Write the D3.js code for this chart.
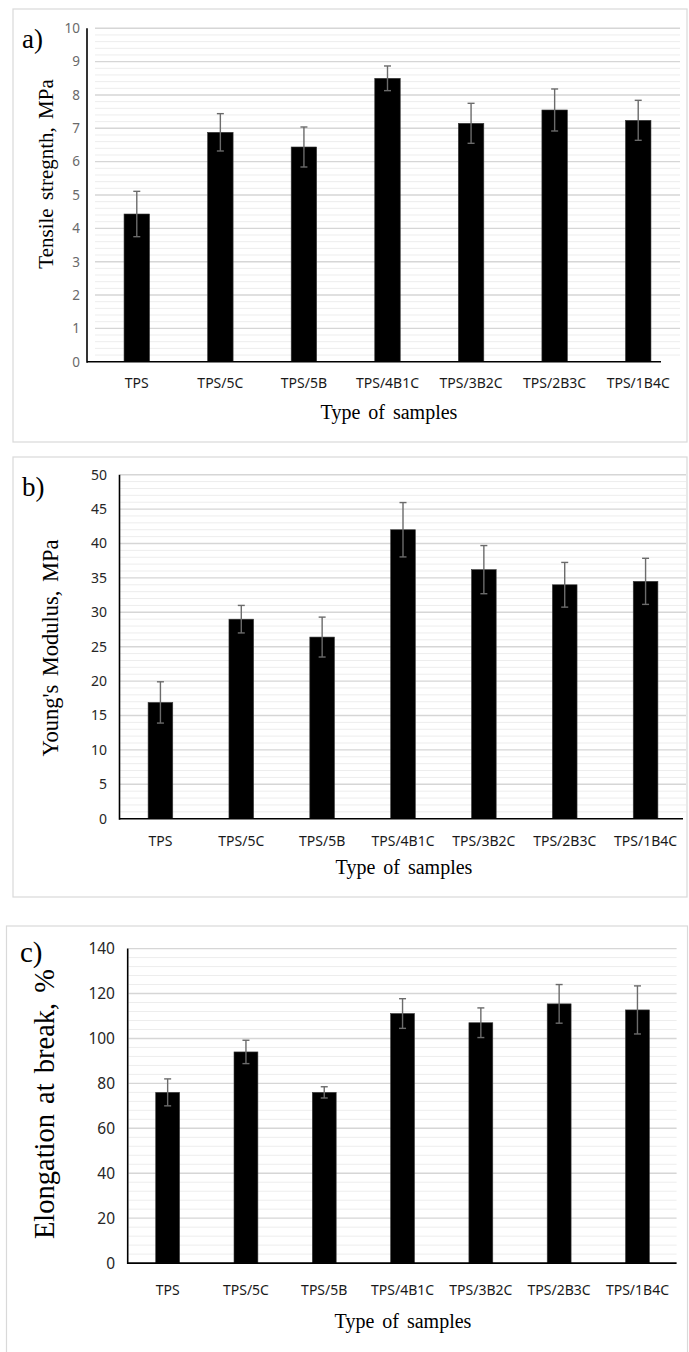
<!DOCTYPE html>
<html>
<head>
<meta charset="utf-8">
<script src="https://cdn.jsdelivr.net/npm/d3@7"></script>
<style>
  html, body { margin: 0; padding: 0; background: #ffffff; }
  svg { display: block; }
</style>
</head>
<body>
<svg id="chart" width="689" height="1352"></svg>
<script>
// Data
const samples = ['TPS', 'TPS/5C', 'TPS/5B', 'TPS/4B1C', 'TPS/3B2C', 'TPS/2B3C', 'TPS/1B4C'];

const tensileStrength = [4.43, 6.88, 6.44, 8.5, 7.15, 7.55, 7.24];
const tensileError = [0.68, 0.56, 0.6, 0.37, 0.6, 0.63, 0.6];

const youngsModulus = [16.9, 29.0, 26.4, 42.0, 36.2, 34.0, 34.5];
const youngsError = [3.0, 2.0, 2.9, 3.95, 3.5, 3.25, 3.35];

const elongation = [76.0, 94.0, 76.0, 111.1, 107.0, 115.4, 112.7];
const elongationError = [6.0, 5.2, 2.5, 6.6, 6.6, 8.6, 10.7];

const tensileTicks = [0, 1, 2, 3, 4, 5, 6, 7, 8, 9, 10];
const youngsTicks = [0, 5, 10, 15, 20, 25, 30, 35, 40, 45, 50];
const elongationTicks = [0, 20, 40, 60, 80, 100, 120, 140];

const xTitle = 'Type of samples';

// Layout of each panel (pixel geometry only)
const panels = [
  {
    letter: 'a)', title: 'Tensile stregnth, MPa', values: tensileStrength, errors: tensileError,
    ticks: tensileTicks, minorStep: 0.2,
    frame: { x: 13, y: 9, w: 674, h: 433 },
    plot: { x0: 95, x1: 680, yTop: 28.3, yBottom: 361.7 },
    axisX: 87, baseEnd: 661,
    tickFont: 13.5, tickColor: '#6a6a6a', tickX: 80,
    letterPos: [22, 48, 27], titlePos: [53, 174, 21],
    catY: 388, xTitlePos: [389, 419]
  },
  {
    letter: 'b)', title: "Young's Modulus, MPa", values: youngsModulus, errors: youngsError,
    ticks: youngsTicks, minorStep: 1,
    frame: { x: 13, y: 457, w: 674, h: 440 },
    plot: { x0: 120, x1: 686, yTop: 474.7, yBottom: 818.7 },
    axisX: 119.5, baseEnd: 683,
    tickFont: 14, tickColor: '#262626', tickX: 107,
    letterPos: [22, 496, 27], titlePos: [58, 648, 22.5],
    catY: 846, xTitlePos: [404, 874]
  },
  {
    letter: 'c)', title: 'Elongation at break, %', values: elongation, errors: elongationError,
    ticks: elongationTicks, minorStep: 4,
    frame: { x: 6.5, y: 926, w: 681, h: 460 },
    plot: { x0: 128.5, x1: 676.6, yTop: 948.6, yBottom: 1263.1 },
    axisX: 127.7, baseEnd: 676.6,
    tickFont: 15.5, tickColor: '#262626', tickX: 115,
    letterPos: [20, 962, 29], titlePos: [54, 1104, 28.5],
    catY: 1295, xTitlePos: [403, 1328]
  }
];

const svg = d3.select('#chart');
const serif = "'Liberation Serif', 'Times New Roman', serif";
const sans = "'Noto Sans', 'Open Sans', sans-serif";

panels.forEach((p) => {
  const g = svg.append('g');

  // panel frame
  g.append('rect')
    .attr('x', p.frame.x)
    .attr('y', p.frame.y)
    .attr('width', p.frame.w)
    .attr('height', p.frame.h)
    .attr('fill', '#ffffff')
    .attr('stroke', '#d9d9d9')
    .attr('stroke-width', 1.2);

  const yMax = p.ticks[p.ticks.length - 1];
  const y = d3.scaleLinear().domain([0, yMax]).range([p.plot.yBottom, p.plot.yTop]);
  const x = d3.scaleBand()
    .domain(samples)
    .range([p.plot.x0, p.plot.x1])
    .paddingInner(0.695)
    .paddingOuter(0.3475);

  // minor gridlines
  const minor = d3.range(0, yMax + 1e-9, p.minorStep).filter((v) => !p.ticks.some((t) => Math.abs(t - v) < 1e-9));
  g.append('g')
    .selectAll('line')
    .data(minor)
    .join('line')
    .attr('x1', p.plot.x0)
    .attr('x2', p.plot.x1)
    .attr('y1', (d) => y(d))
    .attr('y2', (d) => y(d))
    .attr('stroke', '#ededed')
    .attr('stroke-width', 1);

  // major gridlines
  g.append('g')
    .selectAll('line')
    .data(p.ticks.slice(1))
    .join('line')
    .attr('x1', p.plot.x0)
    .attr('x2', p.plot.x1)
    .attr('y1', (d) => y(d))
    .attr('y2', (d) => y(d))
    .attr('stroke', '#d6d6d6')
    .attr('stroke-width', 1.4);

  // y tick labels
  const yAxis = d3.axisLeft(y).tickValues(p.ticks).tickSize(0).tickPadding(0);
  const ya = g.append('g')
    .attr('transform', `translate(${p.tickX},0)`)
    .call(yAxis);
  ya.select('.domain').remove();
  ya.selectAll('text')
    .style('font-family', sans)
    .style('font-size', `${p.tickFont}px`)
    .style('fill', p.tickColor);

  // bars
  const data = samples.map((s, i) => ({ s, v: p.values[i], e: p.errors[i] }));
  g.append('g')
    .selectAll('rect')
    .data(data)
    .join('rect')
    .attr('x', (d) => x(d.s))
    .attr('y', (d) => y(d.v))
    .attr('width', x.bandwidth())
    .attr('height', (d) => y(0) - y(d.v))
    .attr('fill', '#000000')
    .attr('stroke', '#3a3a3a')
    .attr('stroke-width', 0.6);

  // error bars
  const eb = g.append('g')
    .attr('stroke', '#6b6b6b')
    .attr('stroke-width', 1.4)
    .selectAll('g')
    .data(data)
    .join('g')
    .attr('transform', (d) => `translate(${x(d.s) + x.bandwidth() / 2},0)`);
  eb.append('line')
    .attr('y1', (d) => y(d.v + d.e))
    .attr('y2', (d) => y(d.v - d.e));
  eb.append('line')
    .attr('x1', -3.5).attr('x2', 3.5)
    .attr('y1', (d) => y(d.v + d.e))
    .attr('y2', (d) => y(d.v + d.e));
  eb.append('line')
    .attr('x1', -3.5).attr('x2', 3.5)
    .attr('y1', (d) => y(d.v - d.e))
    .attr('y2', (d) => y(d.v - d.e));

  // axis lines
  g.append('line')
    .attr('x1', p.axisX).attr('x2', p.axisX)
    .attr('y1', p.plot.yTop).attr('y2', p.plot.yBottom + 1)
    .attr('stroke', '#000000')
    .attr('stroke-width', 1.6);
  g.append('line')
    .attr('x1', p.axisX).attr('x2', p.baseEnd)
    .attr('y1', y(0)).attr('y2', y(0))
    .attr('stroke', '#000000')
    .attr('stroke-width', 1.6);

  // category labels
  g.append('g')
    .selectAll('text')
    .data(samples)
    .join('text')
    .attr('x', (d) => x(d) + x.bandwidth() / 2)
    .attr('y', p.catY)
    .attr('text-anchor', 'middle')
    .style('font-family', sans)
    .style('font-size', '14px')
    .style('fill', '#1a1a1a')
    .text((d) => d);

  // x title
  g.append('text')
    .attr('x', p.xTitlePos[0])
    .attr('y', p.xTitlePos[1])
    .attr('text-anchor', 'middle')
    .style('font-family', serif)
    .style('font-size', '20px')
    .style('word-spacing', '3px')
    .style('fill', '#000000')
    .text(xTitle);

  // y title
  g.append('text')
    .attr('transform', `translate(${p.titlePos[0]},${p.titlePos[1]}) rotate(-90)`)
    .attr('text-anchor', 'middle')
    .style('font-family', serif)
    .style('font-size', `${p.titlePos[2]}px`)
    .style('word-spacing', '3px')
    .style('fill', '#000000')
    .text(p.title);

  // panel letter
  g.append('text')
    .attr('x', p.letterPos[0])
    .attr('y', p.letterPos[1])
    .style('font-family', serif)
    .style('font-size', `${p.letterPos[2]}px`)
    .style('fill', '#000000')
    .text(p.letter);
});
</script>
</body>
</html>
